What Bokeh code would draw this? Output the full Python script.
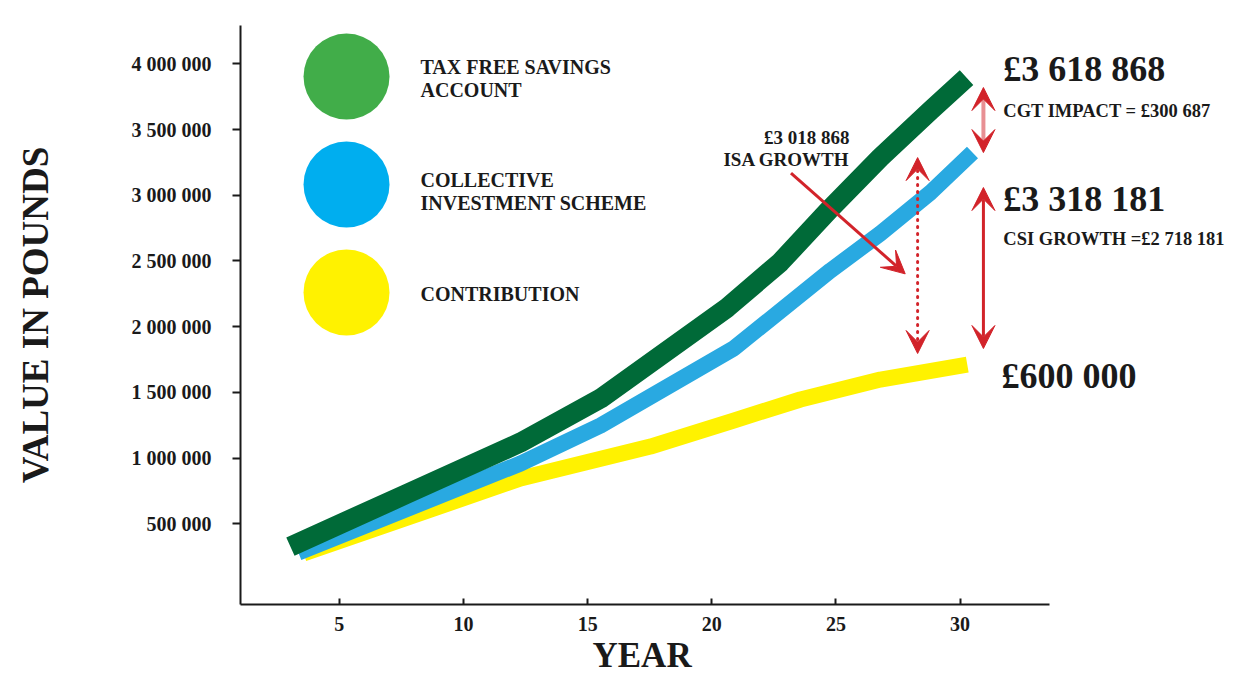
from bokeh.plotting import figure
from bokeh.models import Range1d, FixedTicker, Arrow, VeeHead, Label, Title
from bokeh.embed import file_html
from bokeh.resources import INLINE

# ---------------- data ----------------
isa_years = [3.03, 7.66, 12.30, 15.52, 20.63, 22.76, 24.78, 26.79, 28.81, 30.26]
isa_values = [327000, 723000, 1119000, 1453000, 2146000, 2490000, 2900000,
              3287000, 3645000, 3896000]

cis_years = [3.35, 12.30, 15.52, 20.88, 24.78, 26.79, 28.81, 30.50]
cis_values = [282000, 959000, 1248000, 1834000, 2427000, 2709000, 3021000,
              3325000]

contrib_years = [3.56, 12.30, 17.53, 20.88, 23.57, 26.79, 30.29]
contrib_values = [274000, 845000, 1088000, 1286000, 1446000, 1598000, 1712000]

x_ticks = [5, 10, 15, 20, 25, 30]
y_ticks = [500000, 1000000, 1500000, 2000000, 2500000, 3000000, 3500000, 4000000]
y_tick_labels = ["500 000", "1 000 000", "1 500 000", "2 000 000", "2 500 000",
                 "3 000 000", "3 500 000", "4 000 000"]

legend_lines = [["TAX FREE SAVINGS", "ACCOUNT"],
                ["COLLECTIVE", "INVESTMENT SCHEME"],
                ["CONTRIBUTION"]]

# annotation values
gap_years = [30.94, 28.29, 30.94]            # CGT gap, ISA growth, CSI growth
gap_tops = [3820000, 3287000, 3059000]
gap_bottoms = [3325000, 1796000, 1834000]
pointer_years = [23.19, 27.79]
pointer_values = [3168000, 2402000]

end_texts = ["£3 618 868", "£3 318 181", "£600 000"]
end_text_years = [31.74, 31.74, 31.67]
end_text_values = [3964000, 2975000, 1628000]
note_texts = ["CGT IMPACT = £300 687", "CSI GROWTH =£2 718 181"]
note_values = [3645000, 2671000]
isa_note_texts = ["£3 018 868", "ISA GROWTH"]
isa_note_year = 25.55
isa_note_values = [3440000, 3272000]

# ---------------- layout helpers (legend placement) ----------------
legend_dot_year = 5.29
legend_dot_values = [3903000, 3082000, 2260000]
legend_text_year = 8.27
legend_text_values = [[3974000, 3802000], [3117000, 2945000], [2250000]]

# ---------------- styles ----------------
FONT = "Liberation Serif"
INK = "#1a1a1a"
RED = "#D2232A"
GREEN_LINE = "#006A38"
BLUE_LINE = "#29A9E1"
YELLOW_LINE = "#FFF200"
DOT_COLORS = ["#41AD49", "#00AEEF", "#FFF200"]

p = figure(width=1227, height=681, output_backend="svg", toolbar_location=None,
           x_range=Range1d(1.02, 40.77), y_range=Range1d(-114000, 4292000),
           min_border_left=240, min_border_right=0, min_border_top=25,
           min_border_bottom=77)
p.outline_line_color = None
p.xgrid.visible = False
p.ygrid.visible = False
p.background_fill_color = "white"

# lines
p.line(contrib_years, contrib_values, line_color=YELLOW_LINE, line_width=16,
       line_cap="butt", line_join="round")
p.line(cis_years, cis_values, line_color=BLUE_LINE, line_width=16,
       line_cap="butt", line_join="round")
p.line(isa_years, isa_values, line_color=GREEN_LINE, line_width=20,
       line_cap="butt", line_join="round")

# axes
xa = p.xaxis[0]
xa.ticker = FixedTicker(ticks=x_ticks)
xa.bounds = (1.02, 33.60)
xa.minor_tick_line_color = None
xa.major_tick_in = 6
xa.major_tick_out = 0
xa.major_tick_line_width = 2
xa.axis_line_width = 2
xa.axis_line_color = INK
xa.major_tick_line_color = INK
xa.major_label_standoff = 12
xa.major_label_text_font = FONT
xa.major_label_text_font_style = "bold"
xa.major_label_text_font_size = "20px"
xa.major_label_text_color = INK

# x-axis title, centred under the drawn axis (not the whole frame)
p.add_layout(Title(text="YEAR", align="left", offset=352, standoff=0,
                   text_font=FONT, text_font_style="bold",
                   text_font_size="35px", text_color=INK), "below")

ya = p.yaxis[0]
ya.ticker = FixedTicker(ticks=y_ticks)
ya.major_label_overrides = {t: l for t, l in zip(y_ticks, y_tick_labels)}
ya.minor_tick_line_color = None
ya.major_tick_in = 0
ya.major_tick_out = 8
ya.major_tick_line_width = 2
ya.axis_line_width = 2
ya.axis_line_color = INK
ya.major_tick_line_color = INK
ya.major_label_standoff = 21
ya.major_label_text_font = FONT
ya.major_label_text_font_style = "bold"
ya.major_label_text_font_size = "20px"
ya.major_label_text_color = INK
ya.axis_label = "VALUE IN POUNDS"
ya.axis_label_text_font = FONT
ya.axis_label_text_font_style = "bold"
ya.axis_label_text_font_size = "37px"
ya.axis_label_text_color = INK
ya.axis_label_standoff = 73

# legend: big dots and labels
p.scatter([legend_dot_year] * 3, legend_dot_values, marker="circle", size=86,
          fill_color=DOT_COLORS, line_color=None)
for lines, vals in zip(legend_lines, legend_text_values):
    for t, yv in zip(lines, vals):
        p.add_layout(Label(x=legend_text_year, y=yv, text=t, text_font=FONT,
                           text_font_style="bold", text_font_size="20px",
                           text_color=INK, text_baseline="middle",
                           text_align="left"))

# gap arrows
gap_styles = [dict(line_dash="1 1", line_width=4, line_cap="butt"),
              dict(line_dash="1 6", line_width=3, line_cap="round"),
              dict(line_dash="solid", line_width=3, line_cap="butt")]
for xv, top, bot, st in zip(gap_years, gap_tops, gap_bottoms, gap_styles):
    p.add_layout(Arrow(
        x_start=xv, y_start=bot, x_end=xv, y_end=top,
        start=VeeHead(size=23, fill_color=RED, line_color=RED, line_width=1),
        end=VeeHead(size=23, fill_color=RED, line_color=RED, line_width=1),
        line_color=RED, **st))

p.add_layout(Arrow(
    x_start=pointer_years[0], y_start=pointer_values[0],
    x_end=pointer_years[1], y_end=pointer_values[1],
    end=VeeHead(size=23, fill_color=RED, line_color=RED, line_width=1),
    line_color=RED, line_width=3))

# texts
for t, xv, yv in zip(end_texts, end_text_years, end_text_values):
    p.add_layout(Label(x=xv, y=yv, text=t, text_font=FONT, text_font_style="bold",
                       text_font_size="36px", text_color=INK,
                       text_baseline="middle", text_align="left"))
for t, yv in zip(note_texts, note_values):
    p.add_layout(Label(x=end_text_years[0], y=yv, text=t, text_font=FONT,
                       text_font_style="bold", text_font_size="18.5px",
                       text_color=INK, text_baseline="middle", text_align="left"))
for t, yv in zip(isa_note_texts, isa_note_values):
    p.add_layout(Label(x=isa_note_year, y=yv, text=t, text_font=FONT,
                       text_font_style="bold", text_font_size="19px",
                       text_color=INK, text_baseline="middle", text_align="right"))

open("out.html", "w").write(file_html(p, INLINE))
